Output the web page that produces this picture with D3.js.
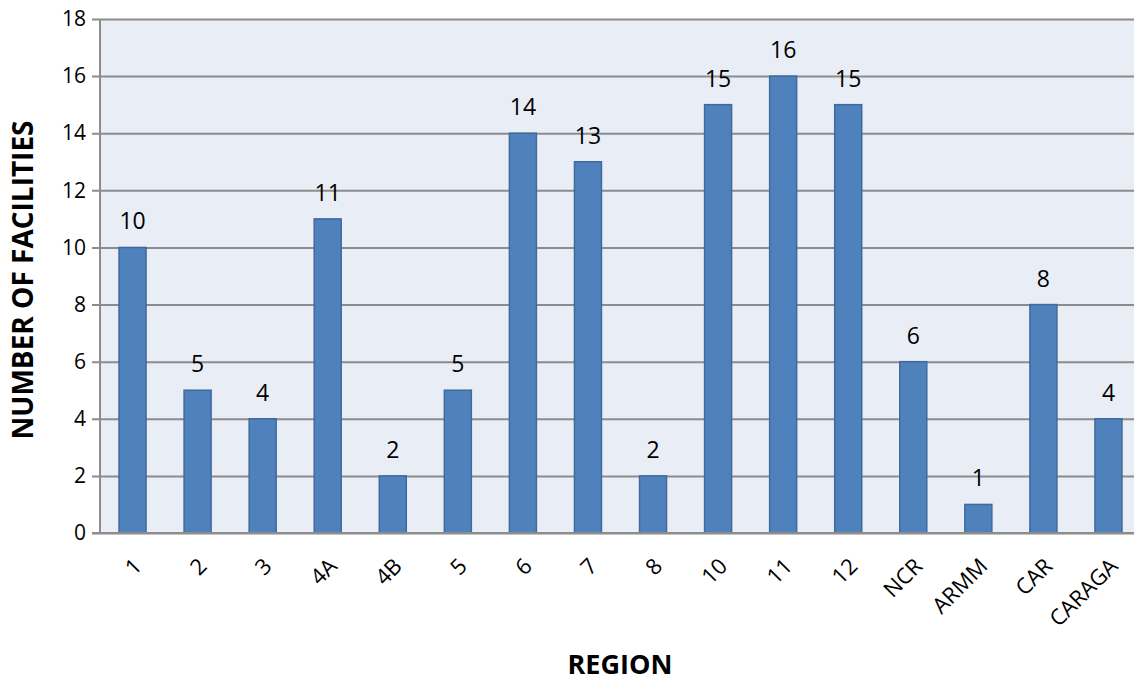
<!DOCTYPE html>
<html>
<head>
<meta charset="utf-8">
<script src="https://cdn.jsdelivr.net/npm/d3@7"></script>
<style>
  body { margin: 0; background: #fff; overflow: hidden; }
  svg { display: block; }
  text { font-family: "Open Sans", "Noto Sans", sans-serif; }
</style>
</head>
<body>
<script>
const width = 1134;
const height = 681;

// data
const regions = ["1","2","3","4A","4B","5","6","7","8","10","11","12","NCR","ARMM","CAR","CARAGA"];
const facilities = [10,5,4,11,2,5,14,13,2,15,16,15,6,1,8,4];
const yTicks = [0,2,4,6,8,10,12,14,16,18];

const margin = {top: 19, left: 100, bottom: 148};
const plotRight = 1141;

const svg = d3.select('body').append('svg').attr('width', width).attr('height', height);

const x = d3.scaleBand().domain(regions).range([margin.left, plotRight]).paddingInner(0.585).paddingOuter(0.2925);
const y = d3.scaleLinear().domain([0, 18]).range([height - margin.bottom, margin.top]);

// plot background
svg.append('rect')
  .attr('x', margin.left).attr('y', y(18))
  .attr('width', plotRight - margin.left).attr('height', y(0) - y(18))
  .attr('fill', '#e9edf5');

// gridlines + y axis
const yAxis = d3.axisLeft(y).tickValues(yTicks).tickSize(-(plotRight - margin.left)).tickPadding(14);
const gy = svg.append('g').attr('transform', `translate(${margin.left},0)`).call(yAxis);
gy.select('.domain').remove();
gy.selectAll('.tick line').attr('stroke', '#8c8c8c').attr('stroke-width', 2).attr('x1', -8);
gy.selectAll('.tick text').attr('font-size', 21).attr('fill', '#000');

// left axis line
svg.append('line')
  .attr('x1', margin.left).attr('x2', margin.left)
  .attr('y1', y(18)).attr('y2', y(0))
  .attr('stroke', '#8c8c8c').attr('stroke-width', 2);

// bars
svg.selectAll('rect.bar').data(facilities).enter().append('rect')
  .attr('class', 'bar')
  .attr('x', (d, i) => x(regions[i]))
  .attr('y', d => y(d))
  .attr('width', x.bandwidth())
  .attr('height', d => y(0) - y(d))
  .attr('fill', '#4f81bd')
  .attr('stroke', '#3f6a9c')
  .attr('stroke-width', 1.5);

// value labels
svg.selectAll('text.val').data(facilities).enter().append('text')
  .attr('class', 'val')
  .attr('x', (d, i) => x(regions[i]) + x.bandwidth() / 2)
  .attr('y', d => y(d) - 18)
  .attr('text-anchor', 'middle')
  .attr('font-size', 23)
  .text(d => d);

// x axis
const xAxis = d3.axisBottom(x).tickSize(0).tickPadding(0);
const gx = svg.append('g').attr('transform', `translate(0,${y(0)})`).call(xAxis);
gx.select('.domain').remove();
gx.selectAll('.tick text')
  .attr('font-size', 22).attr('fill', '#000')
  .attr('text-anchor', 'end')
  .attr('dy', null)
  .attr('transform', 'translate(-3,21) rotate(-45)')
  .attr('dominant-baseline', 'hanging')
  .attr('y', 0).attr('x', 0);

svg.append('line')
  .attr('x1', margin.left - 8).attr('x2', plotRight)
  .attr('y1', y(0)).attr('y2', y(0))
  .attr('stroke', '#8c8c8c').attr('stroke-width', 2);

// axis titles
svg.append('text')
  .attr('x', 620).attr('y', 674)
  .attr('text-anchor', 'middle')
  .attr('font-size', 27).attr('font-weight', 'bold')
  .text('REGION');

svg.append('text')
  .attr('transform', `translate(33,${(y(0) + y(18)) / 2 + 4}) rotate(-90)`)
  .attr('text-anchor', 'middle')
  .attr('font-size', 28).attr('font-weight', 'bold')
  .text('NUMBER OF FACILITIES');
</script>
</body>
</html>
